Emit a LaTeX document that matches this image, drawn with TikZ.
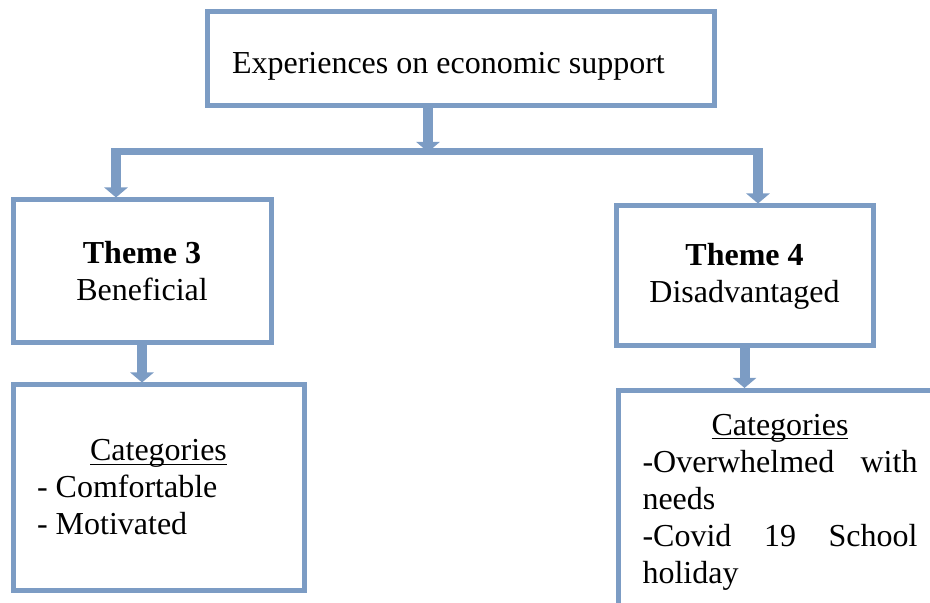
\documentclass[tikz,border=0pt]{standalone}
\usepackage{fontspec}
\setmainfont{Liberation Serif}
\usetikzlibrary{arrows.meta}
\definecolor{framecol}{RGB}{124,156,196}
\newcommand{\cathead}[1]{\underline{\smash{#1}\vphantom{C}}}

\begin{document}
\begin{tikzpicture}[x=0.5pt, y=-0.5pt,
	box/.style={draw=framecol, line width=2.5pt, inner sep=0pt, font=\fontsize{16}{18.5}\selectfont},
	flow/.style={framecol, line width=5pt, -{Triangle[width=11.5pt, length=5pt]}},
	bar/.style={framecol, line width=3.5pt}]
	% Page frame
	\useasboundingbox (0,0) rectangle (930,603);
	\clip (0,0) rectangle (930,603);

	% Boxes
	\node[box, text width=228.5pt, inner xsep=12.5pt, minimum height=47pt, text height=18pt, text depth=3.5pt, align=flush left] (top) at (460.5,59) {Experiences on economic support};
	\node[box, minimum width=129pt, minimum height=71.5pt, align=center] (theme3) at (142,271.5) {\textbf{Theme 3}\\Beneficial};
	\node[box, minimum width=128.5pt, minimum height=70pt, align=center] (theme4) at (744.5,276) {\textbf{Theme 4}\\Disadvantaged};
	\node[box, text width=121.5pt, inner xsep=12pt, minimum height=102.5pt, align=flush left] (cat3) at (158.5,487.5) {{\centering\cathead{Categories}\par}- Comfortable\\- Motivated};
	\node[box, text width=137.5pt, inner xsep=12pt, minimum height=112pt, align=justify, anchor=north west] (cat4) at (616,388) {{\centering\cathead{Categories}\par}-Overwhelmed with needs\par -Covid 19 School holiday};

	% Connectors
	\coordinate (jt) at (428,152);
	\coordinate (jl) at (116,152);
	\coordinate (jr) at (758,152);
	\draw[bar] ([xshift=-2.5pt]jl) -- ([xshift=2.5pt]jr);
	\draw[flow] (top.south -| jt) -- (jt);
	\draw[flow] ([yshift=1.75pt]jl) -- (jl |- theme3.north);
	\draw[flow] ([yshift=1.75pt]jr) -- (jr |- theme4.north);
	\draw[flow] (theme3.south) -- (theme3.south |- cat3.north);
	\draw[flow] (theme4.south) -- (theme4.south |- cat4.north);

\end{tikzpicture}
\end{document}
